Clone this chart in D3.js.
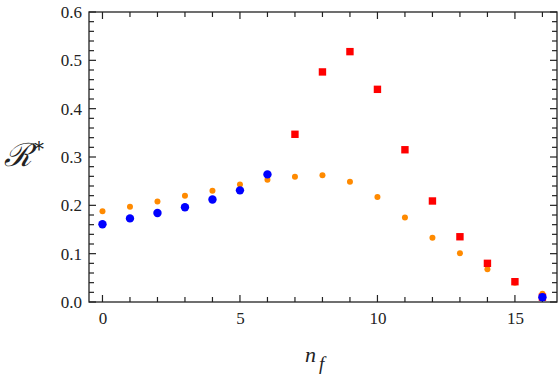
<!DOCTYPE html>
<html>
<head>
<meta charset="utf-8">
<script src="https://cdnjs.cloudflare.com/ajax/libs/d3/7.8.5/d3.min.js"></script>
<style>
  body { margin: 0; background: #fff; }
  svg { display: block; }
</style>
</head>
<body>
<div id="chart"></div>
<script>
// orange series, n = 0..16
const orangeN = [0, 1, 2, 3, 4, 5, 6, 7, 8, 9, 10, 11, 12, 13, 14, 15, 16];
const orangeR = [0.188, 0.197, 0.208, 0.220, 0.230, 0.243, 0.253, 0.259, 0.262, 0.249, 0.217, 0.175, 0.133, 0.101, 0.068, 0.040, 0.017];

// red series, n = 7..16
const redN = [7, 8, 9, 10, 11, 12, 13, 14, 15, 16];
const redR = [0.347, 0.476, 0.518, 0.440, 0.315, 0.209, 0.135, 0.080, 0.042, 0.010];

// blue series
const blueN = [0, 1, 2, 3, 4, 5, 6, 16];
const blueR = [0.161, 0.173, 0.184, 0.196, 0.212, 0.231, 0.264, 0.010];

const xMajor = [0, 5, 10, 15];
const yMajor = [0.0, 0.1, 0.2, 0.3, 0.4, 0.5, 0.6];

const W = 558, H = 382;
const pad = { left: 89, right: 557, top: 12, bottom: 302 };

const svg = d3.select('#chart').append('svg').attr('width', W).attr('height', H);

const x = d3.scaleLinear().domain([-0.49, 16.53]).range([pad.left, pad.right]);
const y = d3.scaleLinear().domain([0, 0.6]).range([pad.bottom, pad.top]);

const xMinor = d3.range(0, 17);
const yMinor = d3.range(0, 31).map(i => i * 0.02);

// ticks (inward, all four sides)
const tk = svg.append('g').attr('stroke', '#222').attr('stroke-width', 1.2);
xMinor.forEach(v => {
  const len = xMajor.includes(v) ? 7 : 5;
  tk.append('line').attr('x1', x(v)).attr('x2', x(v)).attr('y1', pad.bottom).attr('y2', pad.bottom - len);
  tk.append('line').attr('x1', x(v)).attr('x2', x(v)).attr('y1', pad.top).attr('y2', pad.top + len);
});
yMinor.forEach(v => {
  const major = Math.abs(v * 10 - Math.round(v * 10)) < 1e-6;
  const len = major ? 7 : 5;
  tk.append('line').attr('x1', pad.left).attr('x2', pad.left + len).attr('y1', y(v)).attr('y2', y(v));
  tk.append('line').attr('x1', pad.right).attr('x2', pad.right - len).attr('y1', y(v)).attr('y2', y(v));
});

// axes for labels
const styleAxis = g => {
  g.select('.domain').remove();
  g.attr('font-family', 'Liberation Serif, serif').attr('font-size', 17);
  g.selectAll('text').attr('fill', '#222');
};
svg.append('g')
  .attr('transform', `translate(0,${pad.bottom})`)
  .call(d3.axisBottom(x).tickValues(xMajor).tickSize(0).tickPadding(10).tickFormat(d3.format('d')))
  .call(styleAxis);
svg.append('g')
  .attr('transform', `translate(${pad.left},0)`)
  .call(d3.axisLeft(y).tickValues(yMajor).tickSize(0).tickPadding(7).tickFormat(d3.format('.1f')))
  .call(styleAxis);

// frame
svg.append('rect').attr('x', pad.left).attr('y', pad.top)
  .attr('width', pad.right - pad.left).attr('height', pad.bottom - pad.top)
  .attr('fill', 'none').attr('stroke', '#222').attr('stroke-width', 1.3);

// orange
svg.append('g').selectAll('circle')
  .data(orangeN.map((n, i) => [n, orangeR[i]]))
  .enter().append('circle')
  .attr('cx', d => x(d[0])).attr('cy', d => y(d[1])).attr('r', 3)
  .attr('fill', '#ff8a00');

// red
svg.append('g').selectAll('rect')
  .data(redN.map((n, i) => [n, redR[i]]))
  .enter().append('rect')
  .attr('x', d => x(d[0]) - 3.7).attr('y', d => y(d[1]) - 3.7)
  .attr('width', 7.4).attr('height', 7.4)
  .attr('fill', '#ff0000');

// blue
svg.append('g').selectAll('circle')
  .data(blueN.map((n, i) => [n, blueR[i]]))
  .enter().append('circle')
  .attr('cx', d => x(d[0])).attr('cy', d => y(d[1])).attr('r', 4.2)
  .attr('fill', '#0000ff');

// axis titles
const yl = svg.append('text').attr('x', 4).attr('y', 166)
  .attr('font-family', 'DejaVu Serif, serif').attr('font-style', 'italic')
  .attr('font-size', 32).attr('fill', '#222');
yl.append('tspan').text('ℛ');
yl.append('tspan').attr('font-size', 20).attr('dy', -10).attr('dx', 2).text('*');

const xl = svg.append('text').attr('x', 305).attr('y', 362)
  .attr('font-family', 'Liberation Serif, serif').attr('font-style', 'italic')
  .attr('font-size', 22).attr('fill', '#222');
xl.append('tspan').text('n');
xl.append('tspan').attr('font-size', 19).attr('dy', 8).attr('dx', 3).text('f');
</script>
</body>
</html>
